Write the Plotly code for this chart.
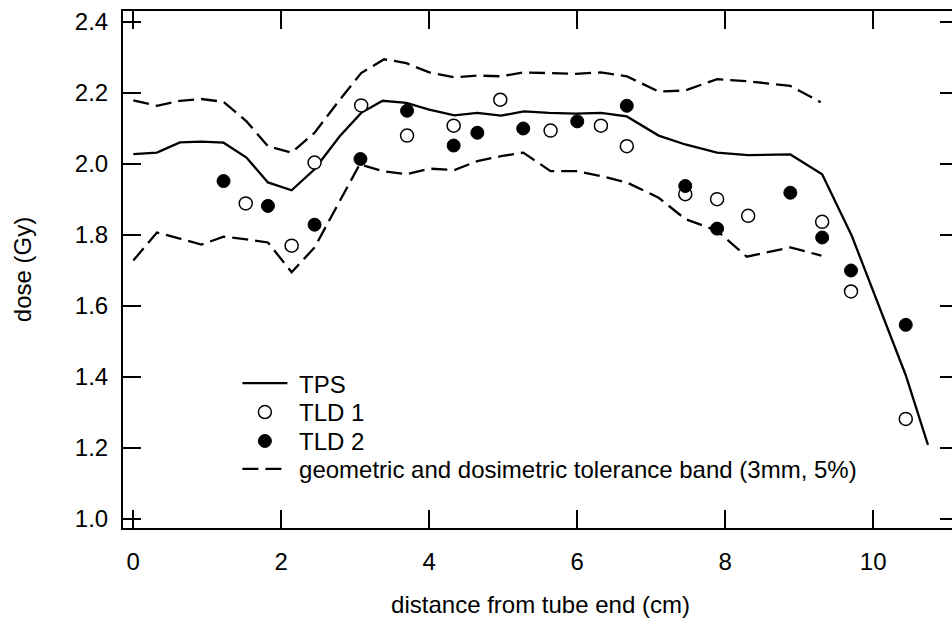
import plotly.graph_objects as go

# Treatment planning system dose profile along the applicator (cm, Gy)
tps_x = [0, 0.32, 0.63, 0.92, 1.22, 1.53, 1.82, 2.14, 2.45, 2.79, 3.08, 3.37, 3.69,
         4.0, 4.34, 4.65, 4.97, 5.28, 5.62, 5.98, 6.32, 6.67, 7.10, 7.46, 7.89,
         8.31, 8.88, 9.31, 9.71, 10.44, 10.74]
tps_y = [2.028, 2.032, 2.061, 2.063, 2.060, 2.018, 1.948, 1.926, 1.985, 2.078, 2.144,
         2.178, 2.172, 2.153, 2.137, 2.144, 2.136, 2.148, 2.144, 2.142, 2.144, 2.134,
         2.080, 2.055, 2.032, 2.025, 2.027, 1.971, 1.798, 1.405, 1.209]

# Upper and lower limits of the tolerance band
band_up_x = [0, 0.32, 0.63, 0.92, 1.22, 1.53, 1.82, 2.14, 2.45, 2.79, 3.08, 3.39, 3.69,
             4.0, 4.34, 4.65, 4.97, 5.27, 5.62, 5.98, 6.32, 6.67, 7.10, 7.46, 7.89,
             8.31, 8.88, 9.29]
band_up_y = [2.179, 2.164, 2.178, 2.183, 2.175, 2.120, 2.050, 2.032, 2.088, 2.181, 2.256,
             2.295, 2.284, 2.258, 2.244, 2.249, 2.247, 2.258, 2.256, 2.254, 2.258, 2.247,
             2.204, 2.207, 2.239, 2.233, 2.220, 2.174]
band_lo_x = [0, 0.32, 0.63, 0.92, 1.22, 1.53, 1.82, 2.14, 2.45, 3.06, 3.37, 3.69, 4.0,
             4.34, 4.65, 4.97, 5.27, 5.64, 5.98, 6.32, 6.67, 7.10, 7.46, 7.89, 8.29,
             8.88, 9.30]
band_lo_y = [1.728, 1.807, 1.790, 1.773, 1.795, 1.788, 1.779, 1.695, 1.765, 1.999, 1.980,
             1.971, 1.987, 1.983, 2.008, 2.022, 2.032, 1.980, 1.980, 1.966, 1.948, 1.905,
             1.845, 1.812, 1.739, 1.765, 1.742]

# Thermoluminescent dosimeter readings
tld1_x = [1.52, 2.14, 2.45, 3.08, 3.70, 4.33, 4.96, 5.64, 6.32, 6.67, 7.46, 7.89,
          8.31, 9.31, 9.70, 10.44]
tld1_y = [1.889, 1.770, 2.004, 2.165, 2.080, 2.108, 2.181, 2.094, 2.108, 2.050, 1.915,
          1.901, 1.854, 1.837, 1.641, 1.282]
tld2_x = [1.22, 1.82, 2.45, 3.07, 3.70, 4.33, 4.65, 5.27, 6.00, 6.67, 7.46, 7.89,
          8.88, 9.31, 9.70, 10.44]
tld2_y = [1.952, 1.882, 1.829, 2.014, 2.150, 2.052, 2.088, 2.100, 2.120, 2.164, 1.938,
          1.818, 1.919, 1.793, 1.700, 1.547]

x_ticks = [0, 2, 4, 6, 8, 10]
y_ticks = [1.0, 1.2, 1.4, 1.6, 1.8, 2.0, 2.2, 2.4]
x_range = [-0.139, 11.146]
y_range = [0.9748, 2.4309]

FONT = "Liberation Sans, Arial, Helvetica, sans-serif"
FS = 24
DASH = "16px,7px"
LW = 2.3
NB = "\u00a0"

fig = go.Figure()
fig.add_trace(go.Scatter(x=tps_x, y=tps_y, mode="lines", name=NB + "TPS",
                         legend="legend", line=dict(color="black", width=LW)))
fig.add_trace(go.Scatter(x=tld1_x, y=tld1_y, mode="markers", name=NB + "TLD 1",
                         legend="legend2",
                         marker=dict(symbol="circle", size=13, color="white",
                                     line=dict(color="black", width=1.5))))
fig.add_trace(go.Scatter(x=tld2_x, y=tld2_y, mode="markers", name=NB + "TLD 2",
                         legend="legend3",
                         marker=dict(symbol="circle", size=13, color="black",
                                     line=dict(color="black", width=1))))
fig.add_trace(go.Scatter(x=band_up_x, y=band_up_y, mode="lines",
                         name=NB + "geometric and dosimetric tolerance band (3mm, 5%)",
                         legend="legend4", legendgroup="band",
                         line=dict(color="black", width=LW, dash=DASH)))
fig.add_trace(go.Scatter(x=band_lo_x, y=band_lo_y, mode="lines", showlegend=False,
                         legendgroup="band",
                         line=dict(color="black", width=LW, dash=DASH)))

# one legend per row so the row pitch can be set independently of the font size
legend_rows = {"legend": 0.2794, "legend2": 0.2235, "legend3": 0.1676, "legend4": 0.1137}
legend_common = dict(x=0.137, xanchor="left", yanchor="middle",
                     bgcolor="rgba(0,0,0,0)", borderwidth=0, itemwidth=45,
                     font=dict(family=FONT, size=FS, color="black"))

# the frame runs slightly past the right edge of the page, so only the
# inward right-hand ticks remain visible
fig.update_layout(
    width=962, height=618,
    margin=dict(l=123, r=2, t=11, b=88),
    paper_bgcolor="white", plot_bgcolor="white",
    font=dict(family=FONT, size=FS, color="black"),
    showlegend=True,
    xaxis=dict(range=x_range, tickvals=x_ticks, ticktext=[str(v) for v in x_ticks],
               showgrid=False, zeroline=False, showline=True, linecolor="black",
               linewidth=2, mirror="ticks", ticks="inside", ticklen=18, tickwidth=2,
               tickcolor="black", ticklabelstandoff=11,
               title=dict(text="distance from tube end (cm)", standoff=24,
                          font=dict(size=FS))),
    yaxis=dict(range=y_range, tickvals=y_ticks, ticktext=[f"{v:.1f}" for v in y_ticks],
               showgrid=False, zeroline=False, showline=True, linecolor="black",
               linewidth=2, mirror="ticks", ticks="inside", ticklen=18, tickwidth=2,
               tickcolor="black", ticklabelstandoff=8,
               title=dict(text="dose (Gy)", standoff=36, font=dict(size=FS))),
)
for key, ypos in legend_rows.items():
    fig.update_layout({key: dict(legend_common, y=ypos)})

fig.write_html(
    "out.html",
    post_script="document.documentElement.style.overflow='hidden';"
                "document.body.style.overflow='hidden';",
)
